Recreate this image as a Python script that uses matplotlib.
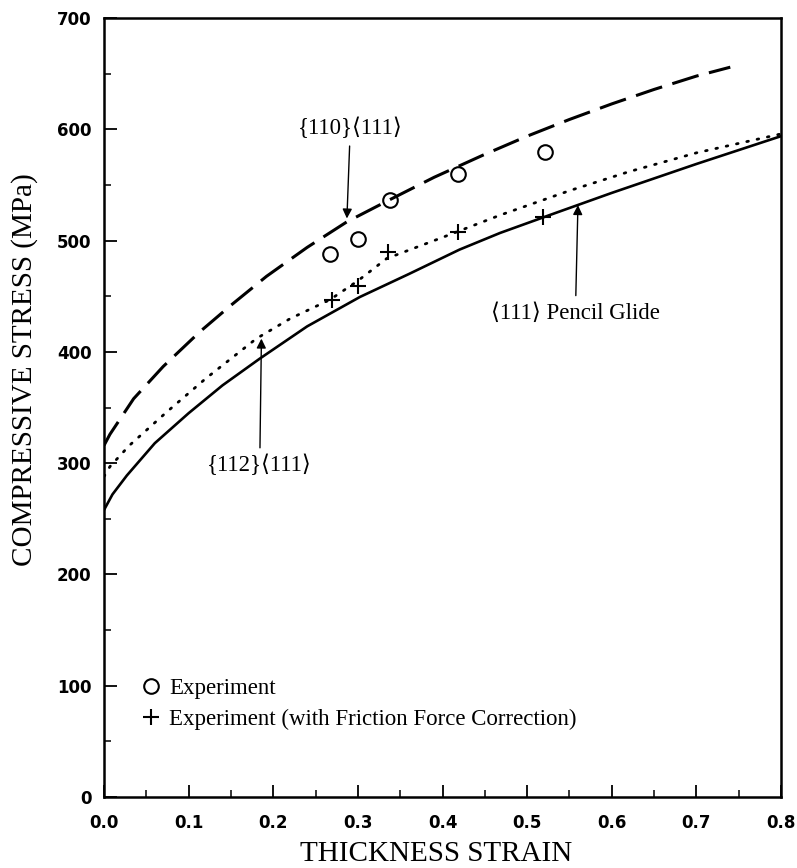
import matplotlib
matplotlib.use("Agg")
import matplotlib.pyplot as plt
from matplotlib.ticker import MultipleLocator

# {110}<111> slip model (dashed)
strain_110 = [0, 0.007, 0.035, 0.07, 0.113, 0.15, 0.192, 0.24, 0.287, 0.338,
              0.39, 0.448, 0.5, 0.55, 0.6, 0.65, 0.7, 0.74]
stress_110 = [316, 326, 358, 387, 418, 442, 468, 494, 517, 537,
              557, 577, 594, 609, 623, 636, 648, 656]

# {112}<111> slip model (dotted)
strain_112 = [0, 0.007, 0.03, 0.074, 0.12, 0.18, 0.22, 0.267, 0.3, 0.334,
              0.4, 0.468, 0.55, 0.62, 0.7, 0.8]
stress_112 = [288, 297, 316, 346, 376, 412, 430, 447, 464, 484,
              503, 523, 545, 562, 579, 596]

# <111> pencil glide (solid)
strain_pencil = [0, 0.01, 0.027, 0.06, 0.1, 0.14, 0.184, 0.24, 0.3025, 0.36,
                 0.42, 0.468, 0.53, 0.6, 0.7, 0.8]
stress_pencil = [258, 272, 289, 318, 345, 370, 394, 423, 449.5, 470,
                 492, 507, 524, 543, 569, 594]

# measurements
exp_strain = [0.267, 0.30, 0.338, 0.418, 0.521]
exp_stress = [488, 502, 537, 560, 580]
corr_strain = [0.269, 0.30, 0.336, 0.418, 0.519]
corr_stress = [447, 459, 490, 508, 521]

serif = ["Liberation Serif", "DejaVu Serif"]

fig = plt.figure(figsize=(7.97, 8.68), dpi=100)
ax = fig.add_axes([0.1305, 0.0818, 0.8495, 0.8972])

ax.plot(strain_110, stress_110, color="k", lw=2.2, dashes=(9, 3.5))
ax.plot(strain_112, stress_112, color="k", lw=2.0, linestyle=(0, (0.6, 3.2)),
        dash_capstyle="round")
ax.plot(strain_pencil, stress_pencil, color="k", lw=1.9)

ax.plot(exp_strain, exp_stress, linestyle="none", marker="o", ms=10.5,
        mfc="none", mec="k", mew=1.5, label="Experiment")
ax.plot(corr_strain, corr_stress, linestyle="none", marker="+", ms=11,
        mec="k", mew=1.5, label="Experiment (with Friction Force Correction)")

arrow = dict(arrowstyle="-|>", color="k", lw=1.0, shrinkA=3, shrinkB=0,
             mutation_scale=14)
ax.annotate("{110}\u27e8111\u27e9", xy=(0.287, 520), xytext=(0.291, 601),
            ha="center", va="center", fontsize=16.5, family=serif,
            arrowprops=arrow)
ax.annotate("{112}\u27e8111\u27e9", xy=(0.186, 412), xytext=(0.184, 298),
            ha="center", va="center", fontsize=16.5, family=serif,
            arrowprops=arrow)
ax.annotate("\u27e8111\u27e9 Pencil Glide", xy=(0.56, 532), xytext=(0.557, 435),
            ha="center", va="center", fontsize=16.5, family=serif,
            arrowprops=arrow)

ax.set_xlim(0, 0.8)
ax.set_ylim(0, 700)
ax.xaxis.set_major_locator(MultipleLocator(0.1))
ax.xaxis.set_minor_locator(MultipleLocator(0.05))
ax.yaxis.set_major_locator(MultipleLocator(100))
ax.yaxis.set_minor_locator(MultipleLocator(50))
ax.xaxis.set_major_formatter(lambda v, p: f"{v:.1f}")
ax.yaxis.set_major_formatter(lambda v, p: f"{v:.0f}")
ax.tick_params(which="both", direction="in", top=False, right=False)
ax.tick_params(which="major", length=9, width=1.3, labelsize=12)
ax.tick_params(axis="x", which="major", pad=12)
ax.tick_params(axis="y", which="major", pad=9)
ax.tick_params(which="minor", length=5, width=1.1)
for lab in ax.get_xticklabels() + ax.get_yticklabels():
    lab.set_fontweight("bold")
    lab.set_family("DejaVu Sans")
for sp in ax.spines.values():
    sp.set_linewidth(1.8)

ax.set_xlabel("THICKNESS STRAIN", fontsize=21, family=serif)
ax.set_ylabel("COMPRESSIVE STRESS (MPa)", fontsize=21, family=serif)
ax.xaxis.set_label_coords(0.49, -0.057)
ax.yaxis.set_label_coords(-0.097, 0.549)

leg = ax.legend(loc="lower left", bbox_to_anchor=(0.022, 0.06), frameon=False,
                numpoints=1, handlelength=1.0, handletextpad=0.3,
                labelspacing=0.4, prop={"family": serif, "size": 16.5})

fig.savefig("out.png", dpi=100)
